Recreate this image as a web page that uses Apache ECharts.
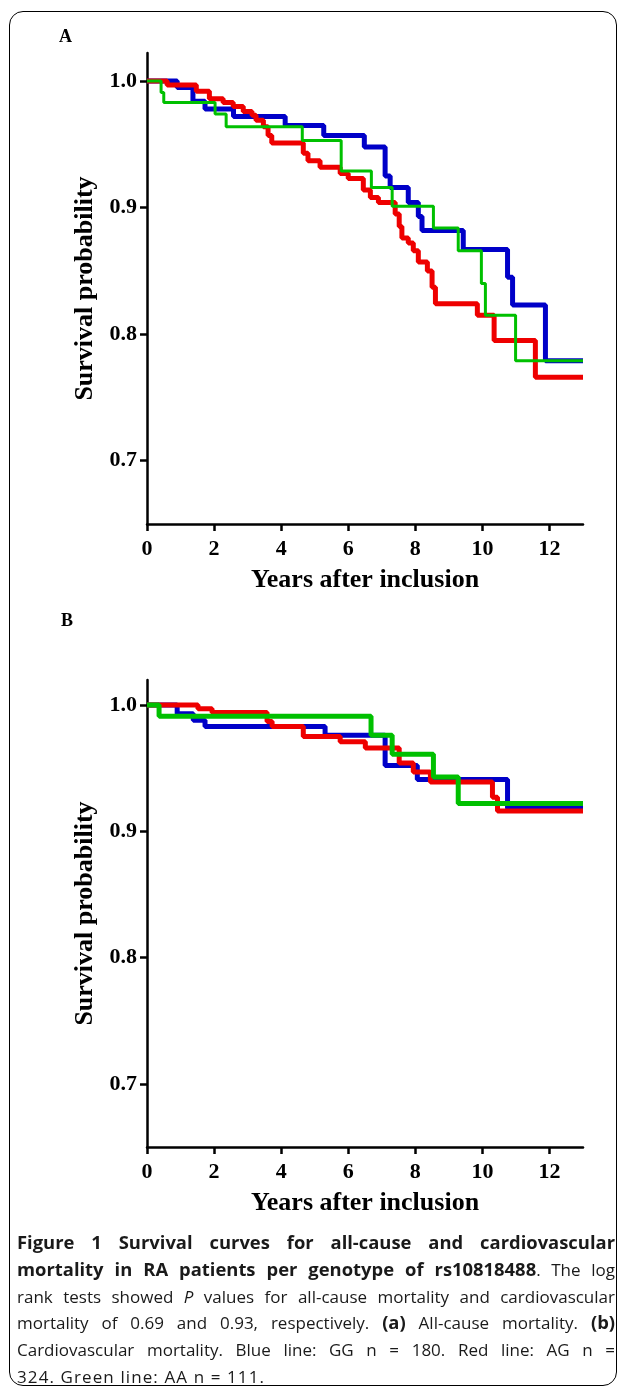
<!DOCTYPE html>
<html>
<head>
<meta charset="utf-8">
<script src="https://cdn.jsdelivr.net/npm/echarts@6/dist/echarts.min.js"></script>
<style>
    body { margin: 0; background: #fff; }
    #wrap { position: relative; width: 625px; height: 1393px; }
    #chart { position: absolute; left: 0; top: 0; width: 625px; height: 1393px; }
    #frame {
        position: absolute; left: 9px; top: 11px; width: 606px; height: 1373px;
        border: 1.5px solid #000; border-radius: 14px;
    }
    #caption {
        position: absolute; left: 17px; top: 1230px; width: 598px;
        font-family: "Open Sans", sans-serif; font-size: 17px; line-height: 26.8px; color: #1a1a1a;
    }
    #caption div { height: 26.8px; white-space: nowrap; text-align: justify; text-align-last: justify; }
    #caption b { font-size: 18.4px; line-height: 1; }
    #caption div.last { text-align-last: left; letter-spacing: 1.1px; }
</style>
</head>
<body>
<div id="wrap">
    <div id="frame"></div>
    <div id="chart"></div>
    <div id="caption">
        <div><b>Figure 1 Survival curves for all-cause and cardiovascular</b></div>
        <div><b>mortality in RA patients per genotype of rs10818488</b>. The log</div>
        <div>rank tests showed <i>P</i> values for all-cause mortality and cardiovascular</div>
        <div>mortality of 0.69 and 0.93, respectively. <b>(a)</b> All-cause mortality. <b>(b)</b></div>
        <div>Cardiovascular mortality. Blue line: GG n = 180. Red line: AG n =</div>
        <div class="last">324. Green line: AA n = 111.</div>
    </div>
</div>
<script>
    // panel A: all-cause mortality (years, survival)
    var aBlueT = [0, 0.9, 1.37, 1.73, 2.58, 4.12, 5.27, 6.48, 7.1, 7.25, 7.79, 8.09, 8.2, 9.43, 10.75, 10.9, 11.88, 13];
    var aBlueS = [1.0, 0.995, 0.984, 0.978, 0.972, 0.965, 0.957, 0.948, 0.925, 0.916, 0.904, 0.893, 0.882, 0.867, 0.845, 0.823, 0.779, 0.779];
    var aRedT = [0, 0.6, 1.47, 1.86, 2.27, 2.57, 2.87, 3.13, 3.25, 3.47, 3.61, 3.72, 4.66, 4.8, 5.16, 5.76, 6.0, 6.45, 6.66, 6.9, 7.4, 7.52, 7.6, 7.79, 7.94, 8.09, 8.36, 8.5, 8.6, 9.85, 10.35, 11.58, 13];
    var aRedS = [1.0, 0.997, 0.992, 0.986, 0.983, 0.980, 0.976, 0.973, 0.969, 0.964, 0.957, 0.951, 0.943, 0.937, 0.932, 0.927, 0.923, 0.914, 0.908, 0.904, 0.895, 0.885, 0.876, 0.872, 0.866, 0.857, 0.850, 0.837, 0.824, 0.815, 0.795, 0.766, 0.766];
    var aGreenT = [0, 0.42, 0.5, 2.03, 2.36, 4.63, 5.79, 6.69, 7.31, 8.54, 9.28, 9.97, 10.09, 10.99, 13];
    var aGreenS = [1.0, 0.991, 0.983, 0.974, 0.964, 0.953, 0.929, 0.916, 0.901, 0.884, 0.866, 0.840, 0.815, 0.779, 0.779];

    // panel B: cardiovascular mortality
    var bBlueT = [0, 0.9, 1.38, 1.73, 5.31, 7.1, 8.06, 10.75, 13];
    var bBlueS = [1.0, 0.993, 0.988, 0.983, 0.976, 0.952, 0.941, 0.918, 0.918];
    var bRedT = [0, 1.52, 1.94, 3.58, 3.73, 4.66, 5.76, 6.51, 7.52, 7.94, 8.45, 10.3, 10.45, 13];
    var bRedS = [1.0, 0.997, 0.994, 0.987, 0.983, 0.975, 0.971, 0.966, 0.954, 0.947, 0.939, 0.927, 0.916, 0.916];
    var bGreenT = [0, 0.36, 6.68, 7.31, 8.54, 9.28, 13];
    var bGreenS = [1.0, 0.991, 0.976, 0.961, 0.943, 0.922, 0.922];

    var xTicks = [0, 2, 4, 6, 8, 10, 12];
    var yTicks = [0.7, 0.8, 0.9, 1.0];

    var serif = '"Liberation Serif", "Times New Roman", serif';

    function pairs(t, s) {
        var out = [];
        for (var i = 0; i < t.length; i++) {
            out.push([t[i], s[i]]);
        }
        return out;
    }

    function xAxisFor(idx) {
        return {
            type: 'value', gridIndex: idx, min: 0, max: 13,
            name: 'Years after inclusion', nameLocation: 'middle', nameGap: 43,
            nameTextStyle: { fontFamily: serif, fontWeight: 'bold', fontSize: 26, color: '#000' },
            axisLine: { lineStyle: { color: '#000', width: 2.5 } },
            axisTick: { customValues: xTicks, length: 7, lineStyle: { color: '#000', width: 2.5 } },
            axisLabel: { customValues: xTicks, margin: 14, fontFamily: serif, fontWeight: 'bold', fontSize: 22, color: '#000' },
            splitLine: { show: false }
        };
    }

    function yAxisFor(idx, top) {
        return {
            type: 'value', gridIndex: idx, min: 0.65, max: top,
            name: 'Survival probability', nameLocation: 'middle', nameGap: 47,
            nameTextStyle: { fontFamily: serif, fontWeight: 'bold', fontSize: 26, color: '#000' },
            axisLine: { show: true, lineStyle: { color: '#000', width: 2.5 } },
            axisTick: { show: true, customValues: yTicks, length: 7, lineStyle: { color: '#000', width: 2.5 } },
            axisLabel: {
                customValues: yTicks, margin: 10, fontFamily: serif, fontWeight: 'bold', fontSize: 22, color: '#000',
                formatter: function (v) { return v.toFixed(1); }
            },
            splitLine: { show: false }
        };
    }

    function curve(name, idx, t, s, color, width) {
        return {
            name: name, type: 'line', step: 'end', xAxisIndex: idx, yAxisIndex: idx,
            symbol: 'none', silent: true,
            lineStyle: { color: color, width: width },
            data: pairs(t, s)
        };
    }

    var blue = '#0000c8', red = '#ee0000', green = '#00c000';

    var option = {
        animation: false,
        backgroundColor: 'transparent',
        title: [
            { text: 'A', left: 54, top: 23, textStyle: { fontFamily: serif, fontWeight: 'bold', fontSize: 18, color: '#000' } },
            { text: 'B', left: 56, top: 607, textStyle: { fontFamily: serif, fontWeight: 'bold', fontSize: 18, color: '#000' } }
        ],
        grid: [
            { left: 147, top: 53, width: 436, height: 471 },
            { left: 147, top: 680, width: 436, height: 467 }
        ],
        xAxis: [xAxisFor(0), xAxisFor(1)],
        yAxis: [yAxisFor(0, 1.0222), yAxisFor(1, 1.0198)],
        series: [
            curve('GG', 0, aBlueT, aBlueS, blue, 5),
            curve('AG', 0, aRedT, aRedS, red, 5),
            curve('AA', 0, aGreenT, aGreenS, green, 3),
            curve('GG', 1, bBlueT, bBlueS, blue, 5),
            curve('AG', 1, bRedT, bRedS, red, 5),
            curve('AA', 1, bGreenT, bGreenS, green, 5)
        ]
    };

    var chart = echarts.init(document.getElementById('chart'));
    chart.setOption(option);
</script>
</body>
</html>
